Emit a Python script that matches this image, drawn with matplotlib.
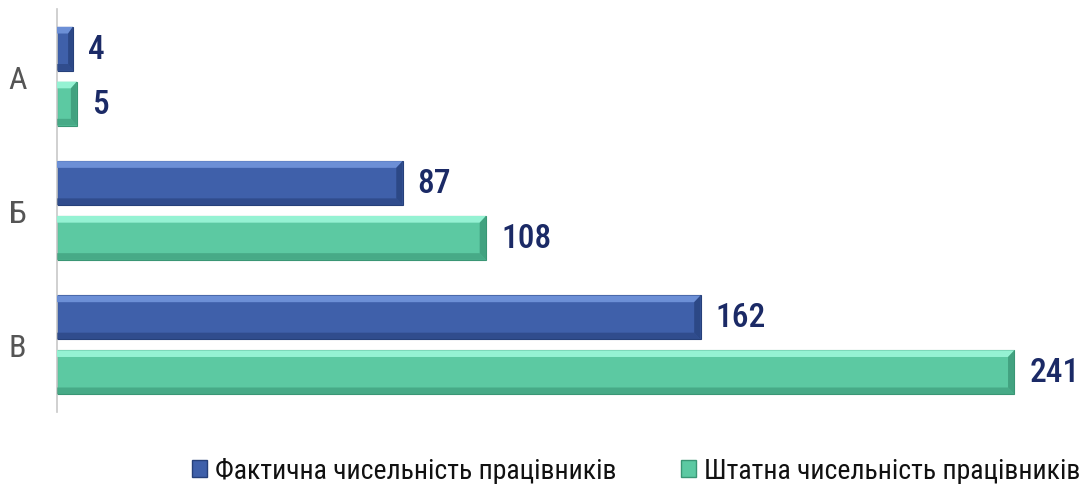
import matplotlib.pyplot as plt
from matplotlib.patches import Polygon
from matplotlib import font_manager
import numpy as np

# Чисельність працівників за категоріями
categories = ['А', 'Б', 'В']
actual = [4, 87, 162]
staff = [5, 108, 241]
series_names = ['Фактична чисельність працівників', 'Штатна чисельність працівників']

names = {f.name for f in font_manager.fontManager.ttflist}
narrow = [n for n in ['Roboto Condensed', 'Liberation Sans Narrow'] if n in names]
condensed = bool(narrow)
plt.rcParams['font.family'] = narrow + ['Roboto', 'DejaVu Sans']

blue = dict(face='#3f60aa', light='#6c8fd6', dark='#26407a')
green = dict(face='#5cc9a2', light='#95f2d3', dark='#3a9675')

fig = plt.figure(figsize=(10.86, 4.85), dpi=100)
ax = fig.add_axes([57 / 1086, 72 / 485, 1013 / 1086, 403 / 485])

y = np.arange(len(categories))
h = 0.327
off = 0.204
ax.set_xlim(0, 255)
ax.set_ylim(2.5, -0.5)


def bevel_bar(ax, x0, yc, w, h, c, bx=1.6, by=0.05):
    top, bot = yc - h / 2, yc + h / 2
    ax.add_patch(Polygon([(x0, top), (w, top), (w, bot), (x0, bot)],
                         closed=True, fc=c['face'], ec=c['dark'], lw=0.8, zorder=2))
    bx = min(bx, w * 0.3)
    # верхня світла грань
    ax.add_patch(Polygon([(x0, top), (w, top), (w - bx, top + by), (x0, top + by)],
                         closed=True, fc=c['light'], ec='none', zorder=3))
    # права та нижня темні грані
    ax.add_patch(Polygon([(w, top), (w, bot), (w - bx, bot - by), (w - bx, top + by)],
                         closed=True, fc=c['dark'], ec='none', alpha=0.75, zorder=3))
    ax.add_patch(Polygon([(x0, bot), (w, bot), (w - bx, bot - by), (x0, bot - by)],
                         closed=True, fc=c['dark'], ec='none', alpha=0.6, zorder=3))


val_size = 24 if condensed else 20
for i in range(len(categories)):
    bevel_bar(ax, 0, y[i] - off, actual[i], h, blue)
    bevel_bar(ax, 0, y[i] + off, staff[i], h, green)
    ax.text(actual[i] + 3.8, y[i] - off, str(actual[i]), va='center', ha='left',
            fontsize=val_size, color='#1b2a66', fontweight='medium')
    ax.text(staff[i] + 3.8, y[i] + off, str(staff[i]), va='center', ha='left',
            fontsize=val_size, color='#1b2a66', fontweight='medium')

ax.set_yticks(y)
ax.set_yticklabels(categories, fontsize=23 if condensed else 19, color='#555555')
ax.tick_params(axis='y', length=0, pad=22)
ax.set_xticks([])
for s in ['top', 'right', 'bottom']:
    ax.spines[s].set_visible(False)
ax.spines['left'].set_color('#c8c8c8')
ax.spines['left'].set_linewidth(1.2)

handles = [plt.Rectangle((0, 0), 1, 1, fc=blue['face'], ec=blue['dark']),
           plt.Rectangle((0, 0), 1, 1, fc=green['face'], ec=green['dark'])]
fig.legend(handles, series_names, loc='center', bbox_to_anchor=(636 / 1086, 13 / 485),
           ncol=2, frameon=False, fontsize=20 if condensed else 17.5,
           handlelength=0.55, handleheight=0.55, handletextpad=0.3,
           columnspacing=2.3, labelcolor='#111111', borderpad=0.2)

fig.savefig('out.png', dpi=100)
